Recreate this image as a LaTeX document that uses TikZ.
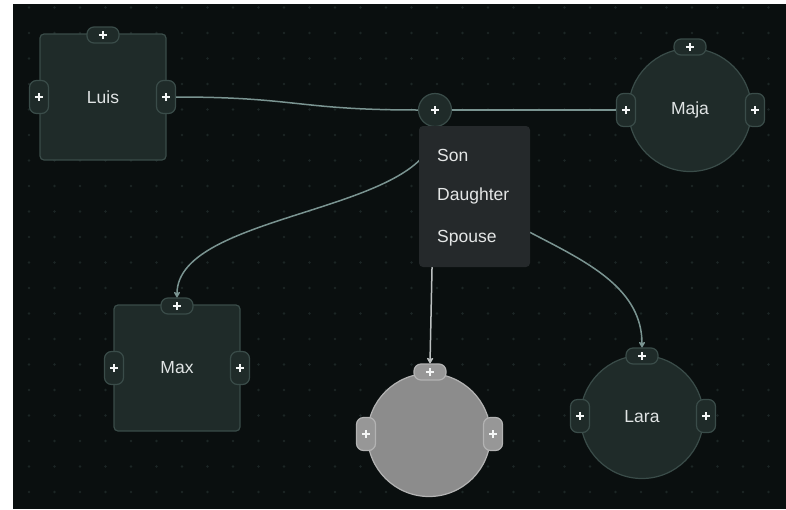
\documentclass[tikz,border=0pt]{standalone}
\usepackage{fontspec}
\setmainfont{Liberation Sans}
\usetikzlibrary{arrows.meta}

\definecolor{canvas}{HTML}{0A0F0F}
\definecolor{griddot}{HTML}{1C2625}
\definecolor{nodefill}{HTML}{1F2B29}
\definecolor{nodeedge}{HTML}{3A4C49}
\definecolor{nodetext}{HTML}{E0E4E4}
\definecolor{plusc}{HTML}{F4F6F6}
\definecolor{edgec}{HTML}{7A9491}
\definecolor{greyfill}{HTML}{8C8C8C}
\definecolor{greyedge}{HTML}{B3B3B3}
\definecolor{greyhandle}{HTML}{979797}
\definecolor{greyline}{HTML}{BCC0C0}
\definecolor{menufill}{HTML}{25292B}
\definecolor{menutext}{HTML}{E4E6E6}

\tikzset{
  plus/.style={path picture={
    \draw[plusc, line width=1.9pt]
      ([xshift=-4.2pt]path picture bounding box.center) -- ([xshift=4.2pt]path picture bounding box.center)
      ([yshift=-4.2pt]path picture bounding box.center) -- ([yshift=4.2pt]path picture bounding box.center);}},
  pnode/.style={draw=nodeedge, fill=nodefill, line width=1.2pt, text=nodetext,
    font=\fontsize{17.5}{20}\selectfont, inner sep=0pt},
  squarenode/.style={pnode, rectangle, rounded corners=4pt, minimum size=126pt},
  roundnode/.style={pnode, circle, minimum size=123pt},
  handle/.style={draw=nodeedge, fill=nodefill, line width=1.2pt, rounded corners=7pt,
    inner sep=0pt, plus},
  hhandle/.style={handle, minimum width=32pt, minimum height=16pt},
  vhandle/.style={handle, minimum width=19pt, minimum height=33pt},
  greynode/.style={fill=greyfill, draw=greyedge},
  greyhd/.style={fill=greyhandle, draw=greyedge},
  edge/.style={draw=edgec, line width=1.5pt},
  arrowedge/.style={edge, -{Stealth[length=7pt,width=8pt,round]}},
  menuitem/.style={anchor=west, text=menutext, font=\fontsize{17.5}{20}\selectfont, inner sep=0pt},
}

\begin{document}
\begin{tikzpicture}[x=1pt, y=-1pt]
  % page and canvas
  \fill[white] (0,0) rectangle (786,509);
  \useasboundingbox (0,0) rectangle (786,509);
  \fill[canvas] (13,4) rectangle (786,509);

  % dotted grid
  \foreach \i in {0,...,29} {
    \foreach \j in {0,...,19} {
      \fill[griddot] (29+25.5*\i, 7.5+25.5*\j) circle (1.3pt);
    }
  }

  % people
  \node[squarenode] (luis) at (103,97) {Luis};
  \node[hhandle] (luisT) at (103,35) {};
  \node[vhandle] (luisL) at (39,97) {};
  \node[vhandle] (luisR) at (166,97) {};

  \node[roundnode] (maja) at (690,110) {Maja};
  \node[hhandle] (majaT) at (690,47) {};
  \node[vhandle] (majaL) at (626,110) {};
  \node[vhandle] (majaR) at (755,110) {};

  \node[squarenode] (max) at (177,368) {Max};
  \node[hhandle] (maxT) at (177,306) {};
  \node[vhandle] (maxL) at (114,368) {};
  \node[vhandle] (maxR) at (240,368) {};

  \node[roundnode, greynode] (blank) at (429,435) {};
  \node[hhandle, greyhd] (blankT) at (430,372) {};
  \node[vhandle, greyhd] (blankL) at (366,434) {};
  \node[vhandle, greyhd] (blankR) at (493,434) {};

  \node[roundnode] (lara) at (642,417) {Lara};
  \node[hhandle] (laraT) at (642,356) {};
  \node[vhandle] (laraL) at (580,416) {};
  \node[vhandle] (laraR) at (706,416) {};

  % relation junction
  \node[circle, draw=nodeedge, fill=nodefill, line width=1.2pt, minimum size=33pt,
        inner sep=0pt, plus] (junc) at (435,110) {};

  % connectors
  \draw[edge] (luisR.east) .. controls +(120,0) and +(-120,0) .. (junc.west);
  \draw[edge] (junc.east) -- (majaL.west);
  \draw[arrowedge] (junc.south) .. controls +(0,86) and +(0,-86) .. (maxT.north);
  \draw[arrowedge, draw=greyline] (junc.south) -- (blankT.north);
  \draw[arrowedge] (junc.south) .. controls +(0,111) and +(0,-111) .. (laraT.north);

  % relation menu
  \node[fill=menufill, rounded corners=4pt, minimum width=111pt, minimum height=141pt,
        inner sep=0pt] (menu) at (474.5,196.5) {};
  \node[menuitem] (son) at (437,155) {Son};
  \node[menuitem] (daughter) at (437,196) {Daughter};
  \node[menuitem] (spouse) at (437,238) {Spouse};
\end{tikzpicture}
\end{document}
